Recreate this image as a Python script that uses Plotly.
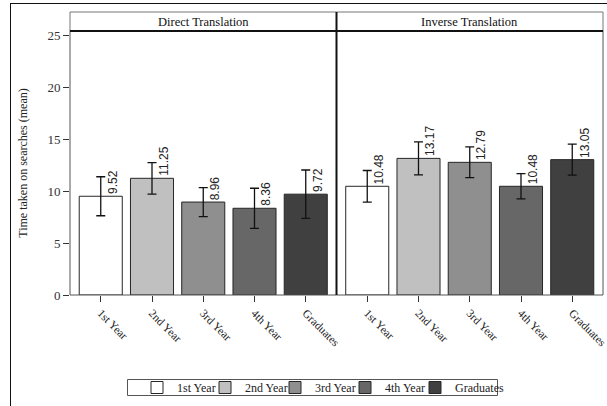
import plotly.graph_objects as go

categories = ["1st Year", "2nd Year", "3rd Year", "4th Year", "Graduates"]
panels = ["Direct Translation", "Inverse Translation"]
direct_means = [9.52, 11.25, 8.96, 8.36, 9.72]
direct_err = [1.88, 1.52, 1.40, 1.93, 2.33]
inverse_means = [10.48, 13.17, 12.79, 10.48, 13.05]
inverse_err = [1.52, 1.59, 1.48, 1.22, 1.50]
colors = ["#ffffff", "#c0c0c0", "#8f8f8f", "#676767", "#404040"]
y_ticks = [0, 5, 10, 15, 20, 25]

W, H = 607, 406
ML, MR, MT, MB = 70, 4, 12, 111
PW = W - ML - MR
PH = H - MT - MB


def px(X):
    return (X - ML) / PW


def py(Y):
    return (H - MB - Y) / PH


legend_ids = ["legend", "legend2", "legend3", "legend4", "legend5"]
legend_left_px = [137, 205, 275, 345, 415]

fig = go.Figure()
for panel_i, (means, errs) in enumerate([(direct_means, direct_err), (inverse_means, inverse_err)]):
    xa = "x" if panel_i == 0 else "x2"
    for i, cat in enumerate(categories):
        fig.add_trace(go.Bar(
            x=[cat], y=[means[i]], xaxis=xa, yaxis="y",
            name=cat, legendgroup=cat, showlegend=(panel_i == 0),
            legend=legend_ids[i],
            marker=dict(color=colors[i], line=dict(color="#262626", width=1)),
            width=0.84,
            error_y=dict(type="data", array=[errs[i]], color="#111111", thickness=1.3, width=4.5),
        ))
        fig.add_annotation(
            x=cat, y=means[i], xref=xa, yref="y", text=f"{means[i]:.2f}",
            textangle=-90, showarrow=False, xanchor="center", yanchor="bottom",
            xshift=12, yshift=0,
            font=dict(family="Liberation Sans", size=12, color="#222222"),
        )

split = px(336.5)
ydom_top = py(31)

axis_common = dict(
    type="category", categoryorder="array", categoryarray=categories,
    range=[-0.6, 4.6], showgrid=False, zeroline=False, showline=False,
    ticks="outside", ticklen=6, tickcolor="#333333", tickangle=45,
    tickfont=dict(family="Liberation Serif", size=11.5, color="#222222"),
    anchor="y", fixedrange=True,
)
legend_common = dict(
    orientation="h", yanchor="top", y=py(373), xanchor="left",
    borderwidth=0, bgcolor="rgba(0,0,0,0)",
    font=dict(family="Liberation Serif", size=12, color="#222222"),
    itemwidth=30, traceorder="normal",
)
legends = {lid: dict(x=px(lx), **legend_common) for lid, lx in zip(legend_ids, legend_left_px)}

fig.update_layout(
    width=W, height=H,
    margin=dict(l=ML, r=MR, t=MT, b=MB, autoexpand=False),
    paper_bgcolor="white", plot_bgcolor="white",
    font=dict(family="Liberation Serif", size=12, color="#222222"),
    barmode="overlay",
    xaxis=dict(domain=[0, split], **axis_common),
    xaxis2=dict(domain=[split, 1], **axis_common),
    yaxis=dict(
        domain=[0, ydom_top], range=[0, 25.45], tickvals=y_ticks,
        showgrid=False, zeroline=False, showline=False,
        ticks="outside", ticklen=6, tickcolor="#333333",
        tickfont=dict(family="Liberation Serif", size=13, color="#333333"),
        title=dict(text="Time taken on searches (mean)", standoff=17,
                   font=dict(family="Liberation Serif", size=12, color="#222222")),
        fixedrange=True,
    ),
    showlegend=True,
    **legends,
)

shapes = []
for x0, x1 in [(0, split), (split, 1)]:
    shapes.append(dict(type="rect", xref="paper", yref="paper", x0=x0, x1=x1, y0=0, y1=ydom_top,
                       line=dict(color="#555555", width=1), layer="above"))
    shapes.append(dict(type="rect", xref="paper", yref="paper", x0=x0, x1=x1, y0=ydom_top, y1=1,
                       line=dict(color="#777777", width=1), layer="above"))
shapes.append(dict(type="line", xref="paper", yref="paper", x0=0, x1=1, y0=ydom_top, y1=ydom_top,
                   line=dict(color="#111111", width=2), layer="above"))
shapes.append(dict(type="line", xref="paper", yref="paper", x0=split, x1=split, y0=0, y1=1,
                   line=dict(color="#111111", width=2), layer="above"))
shapes.append(dict(type="line", xref="paper", yref="paper", x0=px(10), x1=px(620), y0=py(3.5), y1=py(3.5),
                   line=dict(color="#111111", width=1), layer="above"))
shapes.append(dict(type="line", xref="paper", yref="paper", x0=px(10.5), x1=px(10.5), y0=py(3.5), y1=py(420),
                   line=dict(color="#111111", width=1), layer="above"))
shapes.append(dict(type="rect", xref="paper", yref="paper", x0=px(127.5), x1=px(497.5), y0=py(395.5), y1=py(379.5),
                   line=dict(color="#555555", width=1), layer="below"))
fig.update_layout(shapes=shapes)

for i, p in enumerate(panels):
    x0, x1 = (0, split) if i == 0 else (split, 1)
    fig.add_annotation(x=(x0 + x1) / 2, y=(ydom_top + 1) / 2, xref="paper", yref="paper",
                       text=p, showarrow=False, xanchor="center", yanchor="middle",
                       font=dict(family="Liberation Serif", size=12.5, color="#111111"))

fig.write_html("out.html")
